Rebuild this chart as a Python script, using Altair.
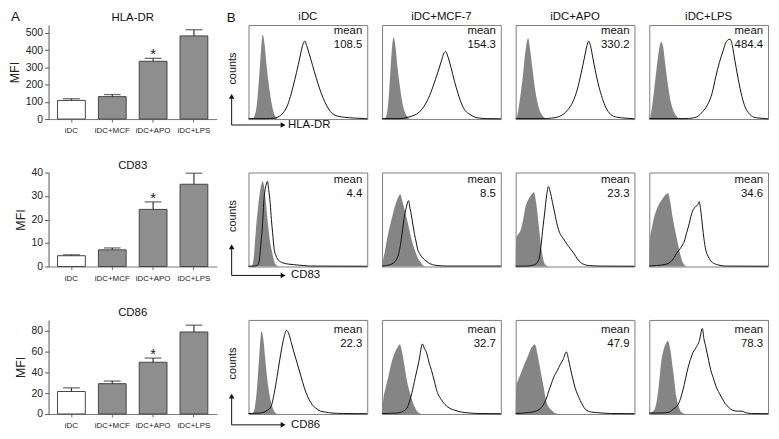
import altair as alt
import pandas as pd

# ---------------- Panel A data (bar charts) ----------------
conditions = ["iDC", "iDC+MCF", "iDC+APO", "iDC+LPS"]
bar_fill = ["white", "#8e8e8e", "#8e8e8e", "#8e8e8e"]
star_marks = ["", "", "*", ""]

hla_mfi = [108, 130, 335, 482]
hla_err = [10, 12, 17, 36]
cd83_mfi = [4.6, 7.1, 24.3, 35.0]
cd83_err = [0.4, 0.8, 3.2, 4.7]
cd86_mfi = [21.5, 29.0, 49.5, 78.5]
cd86_err = [3.5, 2.5, 4.0, 6.5]

# ---------------- Panel B data (flow histograms, x: % of channel range, y: % of max counts) ----------------
columns_b = ["iDC", "iDC+MCF-7", "iDC+APO", "iDC+LPS"]
markers = ["HLA-DR", "CD83", "CD86"]
hla_means = ["108.5", "154.3", "330.2", "484.4"]
cd83_means = ["4.4", "8.5", "23.3", "34.6"]
cd86_means = ["22.3", "32.7", "47.9", "78.3"]

# HLA-DR
hla_idc_iso = [(3, 0), (5, 3), (7, 15), (9, 45), (10.5, 72), (12, 90), (13.5, 80), (15, 60), (17, 38), (19, 20), (21, 8), (23, 2), (25, 0)]
hla_idc_stain = [(0, 0.5), (15, 0.5), (22, 1), (26, 3), (30, 8), (33, 15), (36, 27), (39, 42), (42, 58), (44, 70), (46, 80), (47.5, 83), (49, 78), (51, 70), (54, 57), (57, 44), (60, 32), (63, 22), (66, 14), (69, 8), (73, 4), (80, 2), (90, 1), (98, 0.5), (100, 0.3)]
hla_mcf_iso = [(2, 0), (4, 5), (6, 30), (8, 70), (9.7, 87), (11, 80), (13, 55), (15, 35), (17, 18), (19, 8), (21, 3), (23, 0)]
hla_mcf_stain = [(0, 0.5), (15, 0.5), (22, 2), (27, 4), (31, 7), (35, 13), (39, 22), (43, 35), (47, 50), (50, 62), (52, 70), (53.5, 72), (55, 68), (58, 55), (61, 40), (64, 27), (67, 16), (70, 9), (74, 5), (78, 2), (82, 1), (88, 0.5), (100, 0.3)]
hla_apo_iso = [(0.5, 0), (2, 8), (4, 25), (6, 45), (8, 70), (10.5, 86), (12, 75), (14, 55), (16, 35), (18, 20), (20, 10), (23, 3), (26, 0)]
hla_apo_stain = [(0, 0.5), (25, 0.5), (30, 1), (35, 2), (40, 5), (44, 10), (48, 18), (52, 32), (55, 48), (58, 66), (60, 78), (61.5, 83), (63, 78), (65, 65), (67, 52), (70, 35), (73, 22), (76, 12), (80, 5), (85, 2), (92, 1), (98, 0.5), (100, 0.3)]
hla_lps_iso = [(0.5, 0), (2, 10), (4, 30), (6, 52), (8, 72), (10, 82), (11.5, 78), (13.5, 58), (15.5, 38), (17.5, 22), (20, 10), (23, 3), (26, 0)]
hla_lps_stain = [(0, 0.5), (30, 0.5), (36, 1), (41, 3), (45, 8), (49, 15), (53, 28), (56, 45), (59, 60), (62, 72), (64, 80), (66, 84), (68, 85), (70, 78), (72, 63), (75, 42), (78, 24), (81, 12), (84, 6), (88, 2), (93, 1), (98, 0.5), (100, 0.3)]

# CD83
cd83_idc_iso = [(3, 0), (4.5, 10), (6, 35), (7.8, 60), (9.5, 78), (11, 88), (12, 91), (13, 86), (14.5, 70), (16.7, 42), (18, 28), (19.4, 18), (21, 9), (22, 4), (24, 1), (26, 0)]
cd83_idc_stain = [(0, 0.3), (5, 0.5), (7.8, 1.5), (9, 6), (10.5, 25), (12, 48), (12.8, 67), (14.7, 86), (16, 90.6), (17, 82), (18.3, 67), (19.3, 50), (20.3, 36), (21.7, 18), (23, 12), (24.4, 8), (27, 5), (30, 3.5), (34, 2.5), (38, 2), (42, 1.5), (46.7, 1), (52, 0.5), (100, 0.3)]
cd83_mcf_iso = [(0, 0), (1, 8), (2.2, 15), (4, 28), (6.4, 42), (8.5, 53), (10.6, 63), (13, 72), (15.4, 77), (17, 70), (19, 60), (21, 50), (23, 39), (25, 28), (27.4, 18), (29.5, 11), (31.6, 6), (34, 2), (36, 0)]
cd83_mcf_stain = [(0, 0.5), (3.6, 1), (9.2, 3.5), (13.4, 11), (16.2, 29), (18.4, 50), (20.4, 63), (22.3, 70), (23.5, 62), (24.6, 55), (26, 44), (27.4, 34), (28.7, 26), (30, 18), (31.5, 14), (33, 11), (35, 8), (37, 6), (39, 4), (41.3, 2.5), (44, 1.5), (47, 1), (55, 0.5), (100, 0.5)]
cd83_apo_iso = [(0, 0), (0.5, 30), (2, 34), (4, 38), (6, 48), (8.4, 64), (11, 72), (13, 76), (15.4, 79), (17, 70), (19.6, 42), (21, 25), (22.4, 13), (24, 4), (26, 1), (28, 0)]
cd83_apo_stain = [(0, 0.3), (10, 0.5), (15, 1.5), (18, 4), (20, 10), (21.5, 24), (23, 42), (24.5, 58), (26, 75), (27.5, 85), (29, 80), (31, 68), (33, 56), (35, 44), (37, 36), (40, 30), (43, 24), (46, 19), (49, 14), (52, 8), (55, 4), (58, 2), (62, 1), (70, 0.5), (100, 0.3)]
cd83_lps_iso = [(0, 0), (0.5, 28), (2, 40), (4, 52), (6, 60), (9, 68), (11.6, 73), (15.7, 78), (17.5, 70), (20, 50), (22, 37), (24, 25), (25.5, 16), (26.8, 9.5), (28, 5), (29.5, 2), (32, 0)]
cd83_lps_stain = [(0, 0.5), (6, 1), (14.4, 2.5), (18, 5), (21, 9.5), (23, 14), (25.4, 18), (27.5, 22), (29.5, 27), (31.5, 36), (33.7, 46), (35, 53), (36.5, 59), (39.2, 64), (41, 66), (42, 69), (43.3, 60), (44.8, 43), (46, 30), (47.5, 18), (49.5, 11), (51.7, 6), (55, 3), (58.6, 1.5), (64, 0.5), (100, 0.3)]

# CD86
cd86_idc_iso = [(3, 0), (5, 5), (7, 25), (9, 60), (11, 88), (12.5, 80), (14, 60), (16, 35), (18, 18), (20, 8), (22, 2), (24, 0)]
cd86_idc_stain = [(0, 0.5), (10, 1), (13, 2), (16, 4), (19, 8), (21.7, 22), (24, 39), (26, 55), (28, 70), (30, 82), (32, 89), (34, 85), (36, 76), (38, 67), (41, 54), (44, 41), (47, 28), (50, 18), (52.5, 12), (55, 8), (58, 5), (60.5, 3), (65, 2), (70, 1), (80, 0.5), (100, 0.3)]
cd86_mcf_iso = [(0, 0), (1, 15), (3, 28), (5, 38), (8, 55), (10, 63), (12.5, 70), (15, 74), (17, 65), (19, 50), (21, 35), (23.6, 22), (26, 12), (28, 6), (30, 2), (33, 0)]
cd86_mcf_stain = [(0, 0.5), (12.5, 1), (18, 3), (22, 9), (25, 22), (28, 39), (31, 56), (34, 74.5), (35.5, 70), (37.5, 65), (39.5, 55), (41.7, 46), (44, 35), (46, 25), (50, 15), (53, 10), (57, 6), (61, 4), (65, 2.5), (70, 1.5), (74, 1), (80, 0.5), (100, 0.3)]
cd86_apo_iso = [(0, 0), (0.5, 30), (2, 36), (4, 42), (7, 52), (9.8, 60), (13, 70), (16.2, 74), (18, 66), (19.5, 56), (21.5, 42), (23.7, 28), (25, 18), (26.5, 10.5), (28.5, 6), (30.7, 3.5), (33, 1), (36, 0)]
cd86_apo_stain = [(0, 0.5), (11, 1.5), (18, 3.5), (21, 6), (23.7, 10.5), (26, 17), (28, 25), (30, 32), (32, 39), (35, 46), (37.7, 53), (40, 58), (42.7, 66), (44.5, 58), (46, 49), (48, 38), (50, 28), (52, 21), (54.5, 14), (56.5, 9), (58.7, 5), (61, 3), (64, 2), (68, 1.5), (72.6, 1), (80, 0.5), (100, 0.3)]
cd86_lps_iso = [(0, 0), (2, 2), (4, 4), (6, 12), (8, 30), (10, 55), (12, 68), (14, 75), (15.7, 78), (17.5, 70), (20, 47), (22.7, 19), (25, 7), (27, 2), (30, 0)]
cd86_lps_stain = [(0, 1), (10, 1), (17, 2), (20, 5), (24.3, 10), (28.5, 26), (32.6, 49), (36.7, 65), (40, 72), (42, 77), (44.7, 91), (46, 80), (47.5, 72), (50, 57), (51.7, 47), (54, 38), (56, 30), (59, 22), (61.6, 16), (64, 11), (67, 7), (70, 4), (74, 3), (78, 3), (81, 1.5), (86, 0.5), (100, 0.3)]

# ---------------- layout constants ----------------
BAR_W = 170
PANEL_H = 95
HIST_W = 120
FONT = "Liberation Sans"
ISO_GRAY = "#858585"
one = pd.DataFrame({"k": [0]})


def label(text, x, y, size=11.5, align="center", baseline="alphabetic", angle=None):
    kw = dict(align=align, baseline=baseline, fontSize=size, color="#111")
    if angle is not None:
        kw["angle"] = angle
    return alt.Chart(pd.DataFrame({"t": [text]})).mark_text(**kw).encode(
        x=alt.value(x), y=alt.value(y), text="t:N")


def bar_chart(title, means, errs, ymax, ticks, letter=None):
    df = pd.DataFrame({
        "cond": conditions,
        "mfi": means,
        "upper": [m + e for m, e in zip(means, errs)],
        "fill": bar_fill,
        "star": star_marks,
    })
    xscale = alt.Scale(paddingInner=0.32, paddingOuter=0.22)
    x = alt.X("cond:N", sort=conditions, scale=xscale,
              axis=alt.Axis(title=None, labelAngle=0, labelFontSize=8, labelColor="#222",
                            tickSize=3, tickColor="#666", domainColor="#777",
                            labelPadding=5))
    x_plain = alt.X("cond:N", sort=conditions, scale=xscale, axis=None)
    yscale = alt.Scale(domain=[0, ymax], nice=False)
    yaxis = alt.Axis(values=ticks, title="MFI", grid=False,
                     labelFontSize=10.5, labelOverlap=False, labelColor="#222", tickSize=4,
                     tickColor="#555", domainColor="#555", labelPadding=2,
                     titleFontSize=12.5, titleFontWeight="normal",
                     titleColor="#222", titlePadding=4)
    base = alt.Chart(df)
    bars = base.mark_bar(stroke="#444", strokeWidth=1).encode(
        x=x, y=alt.Y("mfi:Q", scale=yscale, axis=yaxis),
        fill=alt.Color("fill:N", scale=None))
    err = base.mark_rule(color="#333", strokeWidth=1.2).encode(
        x=x_plain, y=alt.Y("mfi:Q", scale=yscale, axis=None), y2="upper:Q")
    cap = base.mark_tick(color="#333", size=17, thickness=1.3).encode(
        x=x_plain, y=alt.Y("upper:Q", scale=yscale, axis=None))
    star = base.mark_text(baseline="bottom", dy=4, fontSize=15, color="#222").encode(
        x=x_plain, y=alt.Y("upper:Q", scale=yscale, axis=None), text="star:N")
    layers = [bars, err, cap, star, label(title, BAR_W / 2, -4)]
    if letter:
        layers.append(label(letter, -38, -4, size=13.5, align="left"))
    return alt.layer(*layers).resolve_axis(x="independent", y="independent").properties(
        width=BAR_W, height=PANEL_H)


def hist_chart(iso, stain, mean_text, mean_y, col_title=None, arrow=None, letter=None):
    xs = alt.Scale(domain=[0, 100], nice=False, zero=False)
    ys = alt.Scale(domain=[0, 100], nice=False)
    iso_df = pd.DataFrame(iso, columns=["x", "y"])
    st_df = pd.DataFrame(stain, columns=["x", "y"])
    area = alt.Chart(iso_df).mark_area(color=ISO_GRAY, interpolate="monotone").encode(
        x=alt.X("x:Q", scale=xs, axis=None), y=alt.Y("y:Q", scale=ys, axis=None))
    line = alt.Chart(st_df).mark_line(color="#111", strokeWidth=1, interpolate="monotone").encode(
        x=alt.X("x:Q", scale=xs, axis=None), y=alt.Y("y:Q", scale=ys, axis=None))
    txt = alt.Chart(pd.DataFrame({"t": ["mean\n" + mean_text]})).mark_text(
        align="right", baseline="alphabetic", lineBreak="\n", lineHeight=14,
        fontSize=11.5, color="#111").encode(
        x=alt.value(HIST_W - 5), y=alt.value(mean_y), text="t:N")
    layers = [area, line, txt]
    if col_title:
        layers.append(label(col_title, HIST_W / 2, -5))
    if arrow:
        name, ay, tx = arrow
        layers += [
            alt.Chart(one).mark_rule(color="#111", strokeWidth=1).encode(
                x=alt.value(-17), y=alt.value(ay), y2=alt.value(ay - 27)),
            alt.Chart(one).mark_rule(color="#111", strokeWidth=1).encode(
                x=alt.value(-17), x2=alt.value(33), y=alt.value(ay)),
            alt.Chart(one).mark_point(shape="triangle-up", filled=True, size=32,
                                      color="#111", opacity=1).encode(
                x=alt.value(-17), y=alt.value(ay - 29)),
            alt.Chart(one).mark_point(shape="triangle-right", filled=True, size=32,
                                      color="#111", opacity=1).encode(
                x=alt.value(35), y=alt.value(ay)),
            label(name, tx, ay, align="left", baseline="middle"),
            label("counts", -16, 44, size=11, baseline="middle", angle=270),
        ]
    if letter:
        layers.append(label(letter, -22, -3, size=13.5, align="left"))
    return alt.layer(*layers).properties(
        width=HIST_W, height=PANEL_H,
        view=alt.ViewBackground(stroke="#7d7d7d", strokeWidth=1))


def spacer():
    return alt.Chart(one).mark_text(text="").encode(
        x=alt.value(0), y=alt.value(0)).properties(width=2, height=PANEL_H)


bar_specs = [
    ("HLA-DR", hla_mfi, hla_err, 545, [0, 100, 200, 300, 400, 500]),
    ("CD83", cd83_mfi, cd83_err, 40, [0, 10, 20, 30, 40]),
    ("CD86", cd86_mfi, cd86_err, 90, [0, 20, 40, 60, 80]),
]
hist_rows = [
    ([hla_idc_iso, hla_mcf_iso, hla_apo_iso, hla_lps_iso],
     [hla_idc_stain, hla_mcf_stain, hla_apo_stain, hla_lps_stain], hla_means, 9, 101, 40),
    ([cd83_idc_iso, cd83_mcf_iso, cd83_apo_iso, cd83_lps_iso],
     [cd83_idc_stain, cd83_mcf_stain, cd83_apo_stain, cd83_lps_stain], cd83_means, 11, 104, 43),
    ([cd86_idc_iso, cd86_mcf_iso, cd86_apo_iso, cd86_lps_iso],
     [cd86_idc_stain, cd86_mcf_stain, cd86_apo_stain, cd86_lps_stain], cd86_means, 13, 106, 43),
]

panels = []
for r in range(3):
    t, m, e, ymax, ticks = bar_specs[r]
    panels.append(bar_chart(t, m, e, ymax, ticks, letter="A" if r == 0 else None))
    panels.append(spacer())
    isos, stains, means, my, ay, tx = hist_rows[r]
    for c in range(4):
        panels.append(hist_chart(
            isos[c], stains[c], means[c], my,
            col_title=columns_b[c] if r == 0 else None,
            arrow=(markers[r], ay, tx) if c == 0 else None,
            letter="B" if (r == 0 and c == 0) else None))

chart = alt.concat(*panels, columns=6, spacing={"row": 54, "column": 15},
                   bounds="flush").properties(
    padding=0, background="white"
).configure(font=FONT).configure_view(strokeWidth=0)

chart.save("out.html", embed_options={"renderer": "svg", "actions": False})
